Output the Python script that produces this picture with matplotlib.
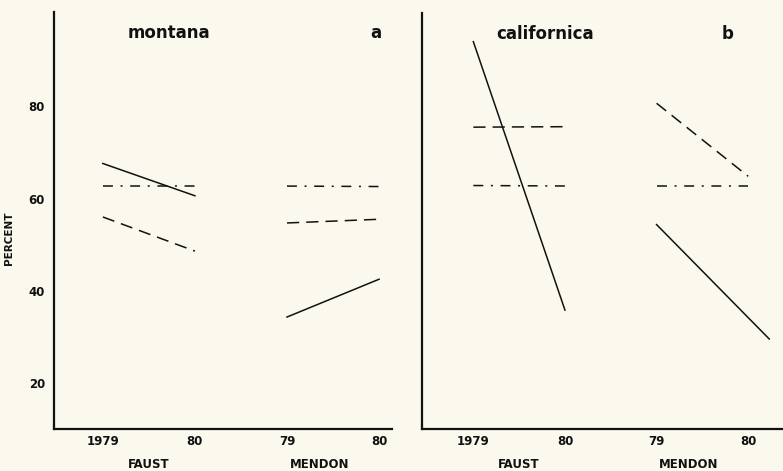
import matplotlib
matplotlib.use("Agg")
import matplotlib.pyplot as plt

# x positions: 0 = Faust 1979, 1 = Faust 80, 2 = Mendon 79, 3 = Mendon 80
tick_pos = [0, 1, 2, 3]
tick_labels = ['1979', '80', '79', '80']
site_names = ['FAUST', 'MENDON']

# montana (a)
mont_faust_solid = [67.6, 60.6]
mont_faust_dashdot = [62.8, 62.8]
mont_faust_dashed = [56.0, 48.6]
mont_mendon_dashdot = [62.7, 62.6]
mont_mendon_dashed = [54.7, 55.5]
mont_mendon_solid = [34.3, 42.5]

# californica (b)
cal_faust_solid = [94.3, 35.9]
cal_faust_dashed = [75.7, 75.8]
cal_faust_dashdot = [63.0, 62.9]
cal_mendon_dashed = [80.9, 65.0]
cal_mendon_dashdot = [63.0, 63.0]
cal_mendon_solid = [54.5, 29.6]
cal_mendon_solid_x = [2.0, 3.23]

bg = '#fbf9ee'
ink = '#111111'
dashed = (0, (8.0, 4.6))
dashdot = (0, (6.5, 5.0, 1.3, 5.0))

fig = plt.figure(figsize=(7.83, 4.71), dpi=100, facecolor=bg)
ax1 = fig.add_axes([0.069, 0.089, 0.4316, 0.886])
ax2 = fig.add_axes([0.539, 0.089, 0.461, 0.883])

faust_x = [0, 1]
mendon_x = [2, 3]

ax1.plot(faust_x, mont_faust_solid, color=ink, lw=1.1)
ax1.plot(faust_x, mont_faust_dashdot, color=ink, lw=1.1, ls=dashdot)
ax1.plot(faust_x, mont_faust_dashed, color=ink, lw=1.1, ls=dashed)
ax1.plot(mendon_x, mont_mendon_dashdot, color=ink, lw=1.1, ls=dashdot)
ax1.plot(mendon_x, mont_mendon_dashed, color=ink, lw=1.1, ls=dashed)
ax1.plot(mendon_x, mont_mendon_solid, color=ink, lw=1.1)

ax2.plot(faust_x, cal_faust_solid, color=ink, lw=1.1)
ax2.plot(faust_x, cal_faust_dashed, color=ink, lw=1.1, ls=dashed)
ax2.plot(faust_x, cal_faust_dashdot, color=ink, lw=1.1, ls=dashdot)
ax2.plot(mendon_x, cal_mendon_dashed, color=ink, lw=1.1, ls=dashed)
ax2.plot(mendon_x, cal_mendon_dashdot, color=ink, lw=1.1, ls=dashdot)
ax2.plot(cal_mendon_solid_x, cal_mendon_solid, color=ink, lw=1.1)

for ax in (ax1, ax2):
    ax.set_facecolor(bg)
    ax.set_ylim(10, 100.5)
    for s in ('top', 'right'):
        ax.spines[s].set_visible(False)
    for s in ('left', 'bottom'):
        ax.spines[s].set_linewidth(1.6)
        ax.spines[s].set_color(ink)
    ax.set_xticks(tick_pos)
    ax.set_xticklabels(tick_labels, fontsize=8.5, fontweight='bold')
    ax.tick_params(length=0, pad=4.5, colors=ink)
    ax.text(0.5, -0.086, site_names[0], transform=ax.get_xaxis_transform(),
            ha='center', va='center', fontsize=8.5, fontweight='bold', color=ink)
    ax.text(2.35, -0.086, site_names[1], transform=ax.get_xaxis_transform(),
            ha='center', va='center', fontsize=8.5, fontweight='bold', color=ink)

ax1.set_xlim(-0.53, 3.14)
ax2.set_xlim(-0.56, 3.38)

ax1.set_yticks([20, 40, 60, 80])
ax1.set_yticklabels(['20', '40', '60', '80'], fontsize=8.5, fontweight='bold')
ax1.tick_params(axis='y', pad=6.5)
ax2.set_yticks([])

ax1.set_ylabel('PERCENT', fontsize=7.5, fontweight='bold', color=ink)
ax1.yaxis.set_label_coords(-0.118, 0.458)

ax1.text(0.72, 96, 'montana', ha='center', va='center', fontsize=12,
         fontweight='bold', color=ink)
ax1.text(2.96, 96, 'a', ha='center', va='center', fontsize=12,
         fontweight='bold', color=ink)
ax2.text(0.785, 96, 'californica', ha='center', va='center', fontsize=12,
         fontweight='bold', color=ink)
ax2.text(2.78, 96, 'b', ha='center', va='center', fontsize=12,
         fontweight='bold', color=ink)

plt.savefig("out.png", dpi=100, facecolor=bg)
